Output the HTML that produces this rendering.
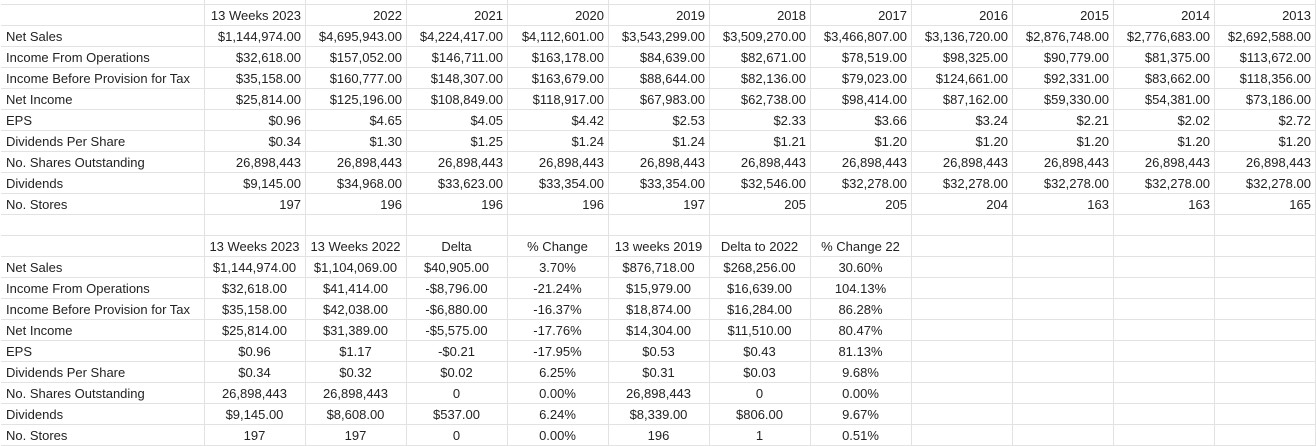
<!DOCTYPE html>
<html><head><meta charset="utf-8"><style>
body{margin:0;width:1316px;height:446px;overflow:hidden;background:#fff;font-family:"Liberation Sans",Arial,sans-serif;font-size:13px;color:#222;}
#grid{position:absolute;left:0;top:0;width:1316px;height:446px;}
.c{position:absolute;box-sizing:border-box;border-right:1px solid #e2e2e2;border-bottom:1px solid #e2e2e2;height:21px;line-height:21px;padding:0 4px;white-space:nowrap;overflow:visible;}
.r{text-align:right}.m{text-align:center}.l{text-align:left;padding-left:5px}
</style></head><body>
<div id="grid"></div>
<script>
const colX=[1,204,305,406,507,608,709,810,911,1012,1113,1214,1315];
const labels=["Net Sales","Income From Operations","Income Before Provision for Tax","Net Income","EPS","Dividends Per Share","No. Shares Outstanding","Dividends","No. Stores"];
const topHeaders=["13 Weeks 2023","2022","2021","2020","2019","2018","2017","2016","2015","2014","2013"];
const topRows=[
["$1,144,974.00","$4,695,943.00","$4,224,417.00","$4,112,601.00","$3,543,299.00","$3,509,270.00","$3,466,807.00","$3,136,720.00","$2,876,748.00","$2,776,683.00","$2,692,588.00"],
["$32,618.00","$157,052.00","$146,711.00","$163,178.00","$84,639.00","$82,671.00","$78,519.00","$98,325.00","$90,779.00","$81,375.00","$113,672.00"],
["$35,158.00","$160,777.00","$148,307.00","$163,679.00","$88,644.00","$82,136.00","$79,023.00","$124,661.00","$92,331.00","$83,662.00","$118,356.00"],
["$25,814.00","$125,196.00","$108,849.00","$118,917.00","$67,983.00","$62,738.00","$98,414.00","$87,162.00","$59,330.00","$54,381.00","$73,186.00"],
["$0.96","$4.65","$4.05","$4.42","$2.53","$2.33","$3.66","$3.24","$2.21","$2.02","$2.72"],
["$0.34","$1.30","$1.25","$1.24","$1.24","$1.21","$1.20","$1.20","$1.20","$1.20","$1.20"],
["26,898,443","26,898,443","26,898,443","26,898,443","26,898,443","26,898,443","26,898,443","26,898,443","26,898,443","26,898,443","26,898,443"],
["$9,145.00","$34,968.00","$33,623.00","$33,354.00","$33,354.00","$32,546.00","$32,278.00","$32,278.00","$32,278.00","$32,278.00","$32,278.00"],
["197","196","196","196","197","205","205","204","163","163","165"]];
const botHeaders=["13 Weeks 2023","13 Weeks 2022","Delta","% Change","13 weeks 2019","Delta to 2022","% Change 22"];
const botRows=[
["$1,144,974.00","$1,104,069.00","$40,905.00","3.70%","$876,718.00","$268,256.00","30.60%"],
["$32,618.00","$41,414.00","-$8,796.00","-21.24%","$15,979.00","$16,639.00","104.13%"],
["$35,158.00","$42,038.00","-$6,880.00","-16.37%","$18,874.00","$16,284.00","86.28%"],
["$25,814.00","$31,389.00","-$5,575.00","-17.76%","$14,304.00","$11,510.00","80.47%"],
["$0.96","$1.17","-$0.21","-17.95%","$0.53","$0.43","81.13%"],
["$0.34","$0.32","$0.02","6.25%","$0.31","$0.03","9.68%"],
["26,898,443","26,898,443","0","0.00%","26,898,443","0","0.00%"],
["$9,145.00","$8,608.00","$537.00","6.24%","$8,339.00","$806.00","9.67%"],
["197","197","0","0.00%","196","1","0.51%"]];
const g=document.getElementById('grid');
function cell(row,col,text,cls,name){
  const d=document.createElement('div');
  d.className='c '+cls;
  d.style.left=colX[col]+'px';
  d.style.width=(colX[col+1]-colX[col]+1)+'px';
  d.style.top=(row*21-16)+'px';
  d.textContent=text;
  
  
  g.appendChild(d);
}
for(let r=0;r<22;r++){
  for(let c=0;c<12;c++){
    let t='',cls='r',name='empty-cell';
    if(r===1&&c>0){t=topHeaders[c-1];name='top-header-cell';}
    else if(r>=2&&r<=10){ if(c===0){t=labels[r-2];cls='l';name='top-row-label';} else {t=topRows[r-2][c-1];name='top-value-cell';} }
    else if(r===12&&c>0&&c<=7){t=botHeaders[c-1];cls='m';name='bottom-header-cell';}
    else if(r>=13&&r<=21){ if(c===0){t=labels[r-13];cls='l';name='bottom-row-label';} else if(c<=7){t=botRows[r-13][c-1];cls='m';name='bottom-value-cell';} }
    cell(r,c,t,cls,name);
  }
}
</script>
</body></html>
